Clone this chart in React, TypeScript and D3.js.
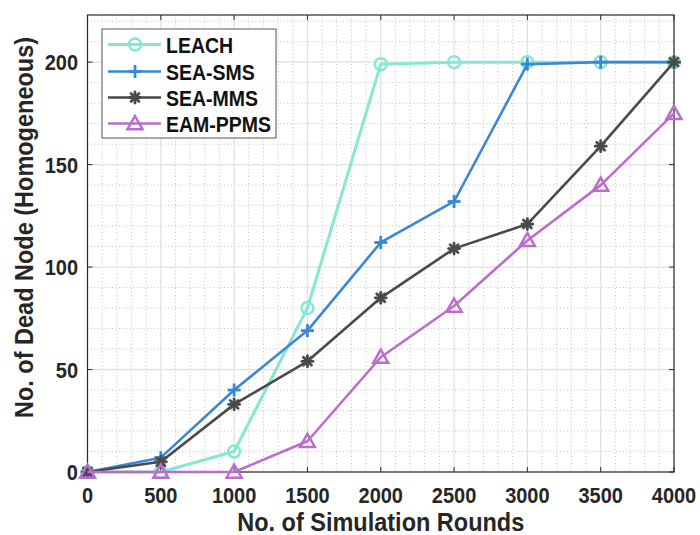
import React from "react";
import * as d3 from "d3";

const rounds = [0, 500, 1000, 1500, 2000, 2500, 3000, 3500, 4000];
const leach = [0, 0, 10, 80, 199, 200, 200, 200, 200];
const seaSms = [0, 7, 40, 69, 112, 132, 199, 200, 200];
const seaMms = [0, 5, 33, 54, 85, 109, 121, 159, 200];
const eamPpms = [0, 0, 0, 15, 56, 81, 113, 140, 175];
const seriesNames = ["LEACH", "SEA-SMS", "SEA-MMS", "EAM-PPMS"];
const xTicks = [0, 500, 1000, 1500, 2000, 2500, 3000, 3500, 4000];
const yTicks = [0, 50, 100, 150, 200];

const colors = ["#86e8d2", "#3a87d8", "#4a4a4a", "#bb6dcd"];
const markers = ["circle", "plus", "star", "triangle"];

const W = 700, H = 535;
const L = 87.5, R = 674, T = 15, B = 472;
const FONT = "'Liberation Sans', Arial, Helvetica, sans-serif";
const VS = 1.12;

function T2({ x, y, size, anchor, fill, children, rotate }: any) {
  const tr = rotate
    ? `translate(${x},${y}) rotate(-90) scale(1,${VS})`
    : `translate(${x},${y}) scale(1,${VS})`;
  return (
    <text
      transform={tr}
      x={0}
      y={0}
      textAnchor={anchor || "start"}
      fontFamily={FONT}
      fontWeight="bold"
      fontSize={size}
      fill={fill || "#262626"}
    >
      {children}
    </text>
  );
}

function Marker({ type, x, y, color }: { type: string; x: number; y: number; color: string }) {
  if (type === "circle") {
    return <circle cx={x} cy={y} r={6} fill="none" stroke={color} strokeWidth={2.5} />;
  }
  if (type === "plus") {
    return (
      <g stroke={color} strokeWidth={2.8}>
        <line x1={x - 6.5} y1={y} x2={x + 6.5} y2={y} />
        <line x1={x} y1={y - 6.5} x2={x} y2={y + 6.5} />
      </g>
    );
  }
  if (type === "star") {
    const a = 5.5, b = 4;
    return (
      <g stroke={color} strokeWidth={2.8} strokeLinecap="round">
        <line x1={x - a} y1={y} x2={x + a} y2={y} />
        <line x1={x} y1={y - a} x2={x} y2={y + a} />
        <line x1={x - b} y1={y - b} x2={x + b} y2={y + b} />
        <line x1={x - b} y1={y + b} x2={x + b} y2={y - b} />
      </g>
    );
  }
  const s = 7.5;
  return (
    <path
      d={`M${x},${y - s} L${x + s},${y + s * 0.75} L${x - s},${y + s * 0.75} Z`}
      fill="none"
      stroke={color}
      strokeWidth={2.5}
      strokeLinejoin="miter"
    />
  );
}

export default function App() {
  const x = d3.scaleLinear().domain([0, 4000]).range([L, R]);
  const y = d3.scaleLinear().domain([0, 223]).range([B, T]);
  const data = [leach, seaSms, seaMms, eamPpms];
  const line = d3
    .line<number>()
    .x((_, i) => x(rounds[i]))
    .y((v) => y(v));

  const minorX = d3.range(0, 4001, 100).filter((v) => v % 500 !== 0);
  const minorY = d3.range(0, 224, 10).filter((v) => v % 50 !== 0);

  const legX = 102, legY = 29, legW = 174, legH = 109;
  const legRows = [44.5, 71.5, 97.5, 123.5];

  return (
    <svg width={W} height={H} style={{ position: "absolute", left: 0, top: 0, background: "#fff" }}>
      <rect x={0} y={0} width={W} height={H} fill="#fff" />
      <g stroke="#c4c4c4" strokeWidth={1} strokeDasharray="1,2.5">
        {minorX.map((v) => (
          <line key={"mx" + v} x1={x(v)} x2={x(v)} y1={T} y2={B} />
        ))}
        {minorY.map((v) => (
          <line key={"my" + v} x1={L} x2={R} y1={y(v)} y2={y(v)} />
        ))}
      </g>
      <g stroke="#e0e0e0" strokeWidth={1.2}>
        {xTicks.map((v) => (
          <line key={"gx" + v} x1={x(v)} x2={x(v)} y1={T} y2={B} />
        ))}
        {yTicks.map((v) => (
          <line key={"gy" + v} x1={L} x2={R} y1={y(v)} y2={y(v)} />
        ))}
      </g>
      <rect x={L} y={T} width={R - L} height={B - T} fill="none" stroke="#2b2b2b" strokeWidth={1.2} />
      <g stroke="#2b2b2b" strokeWidth={1}>
        {xTicks.map((v) => (
          <g key={"tx" + v}>
            <line x1={x(v)} x2={x(v)} y1={B} y2={B - 5} />
            <line x1={x(v)} x2={x(v)} y1={T} y2={T + 5} />
          </g>
        ))}
        {yTicks.map((v) => (
          <g key={"ty" + v}>
            <line x1={L} x2={L + 5} y1={y(v)} y2={y(v)} />
            <line x1={R} x2={R - 5} y1={y(v)} y2={y(v)} />
          </g>
        ))}
      </g>
      {xTicks.map((v) => (
        <T2 key={"lx" + v} x={x(v)} y={503} size={20} anchor="middle">
          {v}
        </T2>
      ))}
      {yTicks.map((v) => (
        <T2 key={"ly" + v} x={78} y={y(v) + 8} size={20} anchor="end">
          {v}
        </T2>
      ))}
      <T2 x={(L + R) / 2} y={531} size={23.5} anchor="middle">
        No. of Simulation Rounds
      </T2>
      <T2 x={33} y={(T + B) / 2 - 16} size={23.5} anchor="middle" rotate>
        No. of Dead Node (Homogeneous)
      </T2>
      {data.map((vals, si) => (
        <g key={"s" + si}>
          <path d={line(vals) || ""} fill="none" stroke={colors[si]} strokeWidth={si === 0 ? 3 : 2.6} strokeLinejoin="round" />
          {vals.map((v, i) => (
            <Marker key={i} type={markers[si]} x={x(rounds[i])} y={y(v)} color={colors[si]} />
          ))}
        </g>
      ))}
      <rect x={legX} y={legY} width={legW} height={legH} fill="#fff" stroke="#555" strokeWidth={1} />
      {seriesNames.map((n, si) => (
        <g key={"leg" + si}>
          <line x1={108} x2={161} y1={legRows[si]} y2={legRows[si]} stroke={colors[si]} strokeWidth={si === 0 ? 3 : 2.6} />
          <Marker type={markers[si]} x={135} y={legRows[si]} color={colors[si]} />
          <T2 x={166} y={legRows[si] + 8} size={19.5} fill="#111">
            {n}
          </T2>
        </g>
      ))}
    </svg>
  );
}
